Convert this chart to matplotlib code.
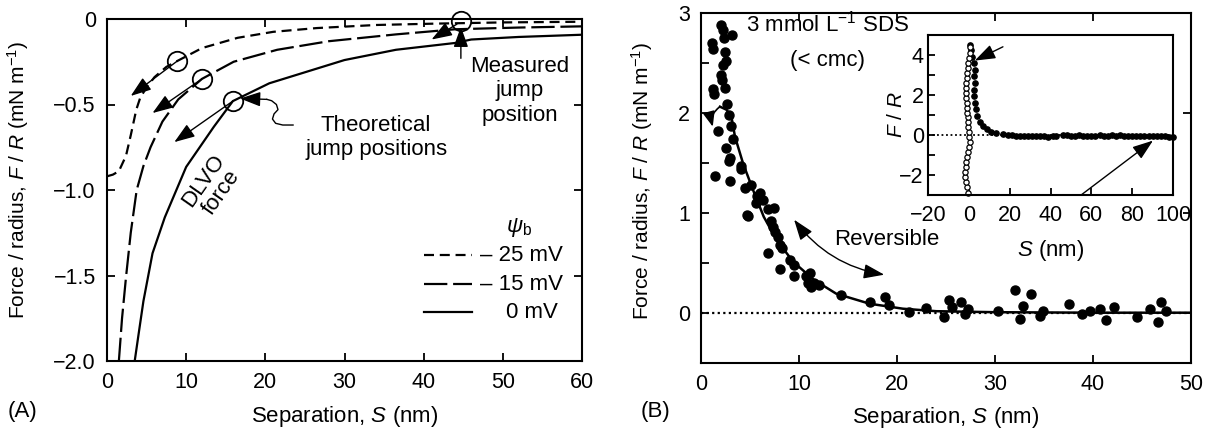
import matplotlib
matplotlib.use('Agg')
import matplotlib.pyplot as plt

plt.rcParams['font.family'] = ['Liberation Sans', 'DejaVu Sans']
plt.rcParams['mathtext.fontset'] = 'custom'
plt.rcParams['mathtext.rm'] = 'Liberation Sans'
plt.rcParams['mathtext.it'] = 'Liberation Sans:italic'
plt.rcParams['mathtext.bf'] = 'Liberation Sans:bold'

FS = 16      # horizontal text
FT = 15.5    # tick labels
FY = 15      # rotated axis labels

# ---------------- Panel A data ----------------
s_0mV = [3.5, 4.0, 4.6, 5.75, 7.3, 10.0, 13.5, 15.9, 20.5, 30, 36.5, 44, 46, 52, 60]
f_0mV = [-2.0, -1.84, -1.65, -1.37, -1.16, -0.865, -0.63, -0.48, -0.376, -0.24, -0.18,
         -0.14, -0.12, -0.105, -0.092]
s_15mV = [1.5, 1.9, 2.4, 3.0, 3.75, 4.6, 5.5, 7.0, 9.0, 12.0, 16, 21.5, 28, 36.5, 44, 52, 60]
f_15mV = [-2.0, -1.75, -1.51, -1.25, -1.0, -0.86, -0.75, -0.6, -0.47, -0.35, -0.25, -0.18,
          -0.13, -0.09, -0.06, -0.05, -0.043]
s_25mV = [0, 0.75, 1.5, 2.4, 3.0, 3.7, 4.2, 5.0, 6.0, 7.5, 8.9, 12, 16.5, 21, 26.5, 34,
          41.5, 50, 60]
f_25mV = [-0.92, -0.91, -0.89, -0.80, -0.68, -0.53, -0.46, -0.40, -0.34, -0.28, -0.245,
          -0.17, -0.11, -0.075, -0.053, -0.035, -0.027, -0.02, -0.016]
theo_jump_s = [8.9, 12.0, 15.9]
theo_jump_f = [-0.245, -0.35, -0.48]
theo_arrow_s = [3.0, 5.75, 8.5]
theo_arrow_f = [-0.45, -0.55, -0.72]
meas_jump_s = [44.7]
meas_jump_f = [-0.01]
legend_labels = ['\u2013 25 mV', '\u2013 15 mV', '0 mV']

# ---------------- Panel B data ----------------
b_s = [2.04, 2.23, 1.1, 1.24, 3.2, 2.3, 2.4, 2.2, 2.6, 2.0,
       2.1, 1.27, 1.35, 2.4, 2.7, 2.9, 3.1, 1.7, 3.3, 2.55,
       3.0, 2.9, 1.4, 3.0, 4.1, 4.1, 4.5, 5.1, 4.7, 4.8,
       5.7, 6.0, 6.3, 5.6, 6.8, 7.4, 7.1, 7.3, 7.5, 6.8,
       7.9, 8.1, 8.3, 8.1, 9.1, 9.5, 9.5, 10.7, 11.1, 10.9,
       11.5, 14.3, 17.2, 18.8, 19.2, 21.2, 23.0, 24.8, 25.3, 25.6,
       26.5, 26.9, 27.2, 30.3, 32.0, 32.5, 32.9, 33.7, 34.6, 34.9,
       37.6, 38.9, 39.7, 40.7, 41.3, 42.1, 44.5, 45.8, 46.6, 46.9,
       47.4, 11.2, 12.0]
b_f = [2.88, 2.83, 2.70, 2.64, 2.78, 2.75, 2.61, 2.48, 2.52, 2.38,
       2.33, 2.24, 2.19, 2.25, 2.09, 1.98, 1.87, 1.82, 1.74, 1.65,
       1.55, 1.52, 1.37, 1.32, 1.47, 1.44, 1.25, 1.28, 0.98, 0.97,
       1.17, 1.20, 1.13, 1.10, 1.04, 1.05, 0.92, 0.86, 0.81, 0.60,
       0.76, 0.68, 0.65, 0.44, 0.53, 0.48, 0.37, 0.37, 0.40, 0.30,
       0.30, 0.18, 0.11, 0.16, 0.08, 0.01, 0.05, -0.04, 0.13, 0.06,
       0.11, -0.01, 0.04, 0.02, 0.23, -0.06, 0.07, 0.19, -0.03, 0.02,
       0.09, -0.01, 0.02, 0.04, -0.07, 0.06, -0.04, 0.04, -0.09, 0.11,
       0.02, 0.26, 0.28]
fit_s = [1.94, 2.6, 3.1, 3.47, 4.3, 5.3, 6.4, 7.7, 9.4, 11.5, 13.8, 17.2, 20.6, 24, 30, 40, 50]
fit_f = [2.06, 2.03, 1.96, 1.76, 1.49, 1.23, 0.96, 0.73, 0.51, 0.33, 0.19, 0.09, 0.04,
         0.015, 0.005, 0.0, 0.0]

# ---------------- Inset data ----------------
in_open_s = [-0.4, -1.0, -1.55, -1.8, -2.0, -1.6, -1.2, -0.8, -0.4, 0.0, 0.4, 0.2, -0.1, -0.3,
             -0.4, -0.6, -0.7, -0.8, -0.9, -1.2, -1.55, -1.4, -1.2, -0.9, -0.7, -0.5, -0.4,
             0.0, 0.4, 0.7]
in_open_f = [-2.9, -2.6, -2.34, -2.1, -1.84, -1.6, -1.35, -1.1, -0.86, -0.6, -0.36, -0.1, 0.13,
             0.4, 0.63, 0.9, 1.12, 1.35, 1.61, 1.85, 2.1, 2.35, 2.6, 2.85, 3.1, 3.35, 3.6, 3.85,
             4.08, 4.41]
in_fill_s = [0.7, 1.2, 1.7, 2.4, 2.9, 2.4, 3.0, 2.7, 2.4, 3.0, 3.7, 4.0, 5.3, 6.9, 8.9, 11.0,
             13.5, 16.7,
             19, 21, 23, 25, 27, 29, 31, 33, 35, 37, 39, 41, 42.5,
             46, 48, 50, 52, 54, 56, 58, 60, 62, 64, 66, 68, 70, 72, 74, 76, 78, 80, 82, 84,
             86, 88, 90, 92, 94, 96, 98, 100]
in_fill_f = [4.5, 4.25, 3.9, 3.6, 3.26, 2.93, 2.6, 2.27, 1.94, 1.61, 1.28, 0.95, 0.63, 0.43,
             0.30, 0.16, 0.10, 0.05,
             0.02, 0.0, -0.05, -0.06, -0.04, -0.06, -0.05, -0.07, -0.05, -0.06, -0.08, -0.06,
             -0.07,
             -0.01, -0.02, -0.03, -0.04, -0.02, -0.05, -0.03, -0.06, -0.04, -0.02, -0.05,
             -0.03, -0.01, -0.04, -0.02, -0.05, -0.03, -0.06, -0.04, -0.05, -0.03, -0.06,
             -0.04, -0.05, -0.07, -0.06, -0.08, -0.08]

# ---------------- Figure ----------------
fig = plt.figure(figsize=(12.11, 4.29), dpi=100)


def style(ax, fs=FT, length=6, pad=8):
    for sp in ax.spines.values():
        sp.set_linewidth(1.5)
    ax.tick_params(which='both', direction='in', length=length, width=1.3,
                   labelsize=fs, pad=pad)


arrow_kw = dict(arrowstyle='-|>,head_length=0.7,head_width=0.25', color='k', lw=1.0,
                shrinkA=0, shrinkB=0, mutation_scale=18)

# Panel A
axA = fig.add_axes([107 / 1211, 1 - 361 / 429, 475 / 1211, 342 / 429])
style(axA)
axA.tick_params(top=True, right=True)
axA.set_xlim(0, 60)
axA.set_ylim(-2.0, 0)
axA.set_xticks([0, 10, 20, 30, 40, 50, 60])
axA.set_yticks([-2.0, -1.5, -1.0, -0.5, 0])
axA.set_yticklabels(['\u22122.0', '\u22121.5', '\u22121.0', '\u22120.5', '0'])

lw = 1.6
axA.plot(s_25mV, f_25mV, color='k', lw=lw, ls=(0, (4.5, 2.6)))
axA.plot(s_15mV, f_15mV, color='k', lw=lw, ls=(0, (10.5, 2.6)))
axA.plot(s_0mV, f_0mV, color='k', lw=lw, ls='-')
axA.plot(theo_jump_s, theo_jump_f, 'o', ms=14, mfc='none', mec='k', mew=1.3)
axA.plot(meas_jump_s, meas_jump_f, 'o', ms=14, mfc='none', mec='k', mew=1.3, clip_on=False)
for s0, f0, s1, f1 in zip(theo_jump_s, theo_jump_f, theo_arrow_s, theo_arrow_f):
    axA.annotate('', xy=(s1, f1), xytext=(s0, f0), arrowprops=arrow_kw)
axA.annotate('', xy=(41.0, -0.12), xytext=(44.2, -0.03), arrowprops=arrow_kw)
axA.annotate('', xy=(44.7, -0.045), xytext=(44.7, -0.23), arrowprops=arrow_kw)

# wavy pointer
wav_s = [23.5, 22.2, 21.3, 20.9, 21.1, 21.6, 21.4, 20.8, 20.2]
wav_f = [-0.62, -0.62, -0.61, -0.585, -0.555, -0.53, -0.5, -0.478, -0.47]
axA.plot(wav_s, wav_f, color='k', lw=1.0)
axA.annotate('', xy=(16.8, -0.465), xytext=(20.2, -0.47), arrowprops=arrow_kw)

axA.text(34, -0.695, 'Theoretical\njump positions', fontsize=FS, ha='center', va='center',
         linespacing=1.2)
axA.text(52.1, -0.42, 'Measured\njump\nposition', fontsize=FS, ha='center', va='center',
         linespacing=1.2)
axA.text(13.3, -0.98, 'DLVO\nforce', fontsize=FS, ha='center', va='center', rotation=55,
         linespacing=1.05)

# manual legend
axA.text(52.1, -1.22, r'$\psi_{\mathrm{b}}$', fontsize=FS, ha='center', va='center')
leg_y = [-1.383, -1.55, -1.716]
leg_ls = [(0, (4.5, 2.6)), (0, (10.5, 2.6)), '-']
leg_x = [47.1, 47.1, 50.4]
for y, ls, lab, x in zip(leg_y, leg_ls, legend_labels, leg_x):
    axA.plot([40.1, 46.1], [y, y], color='k', lw=lw, ls=ls)
    axA.text(x, y, lab, fontsize=FS, ha='left', va='center')

axA.set_xlabel(r'Separation, $S$ (nm)', fontsize=FS)
axA.xaxis.set_label_coords(0.5, -0.125)
axA.set_ylabel(r'Force / radius, $F$ / $R$ (mN m$^{-1}$)', fontsize=FY)
axA.yaxis.set_label_coords(-0.16, 0.53)
fig.text(8 / 1211, 1 - 412 / 429, '(A)', fontsize=FS, ha='left', va='center')

# Panel B
axB = fig.add_axes([701 / 1211, 1 - 362.7 / 429, 490 / 1211, 350 / 429])
style(axB)
axB.tick_params(top=True, right=True)
axB.set_xlim(0, 50)
axB.set_ylim(-0.5, 3)
axB.set_xticks([0, 10, 20, 30, 40, 50])
axB.set_yticks([0, 1, 2, 3])
axB.set_yticks([-0.5, 0.5, 1.5, 2.5], minor=True)
axB.axhline(0, color='k', lw=1.6, ls=(0, (1, 1.5)))
axB.plot(fit_s, fit_f, color='k', lw=1.8)
axB.annotate('', xy=(1.2, 1.86), xytext=(1.94, 2.06),
             arrowprops=dict(arrowstyle='-|>,head_length=0.5,head_width=0.2', color='k',
                             lw=1.2, shrinkA=0, shrinkB=0, mutation_scale=18,
                             connectionstyle='arc3,rad=0.35'))
axB.plot(b_s, b_f, 'o', ms=6.5, color='k', clip_on=False)
axB.text(12.9, 2.89, r'3 mmol L$^{-1}$ SDS', fontsize=FS, ha='center', va='center')
axB.text(12.9, 2.52, '(< cmc)', fontsize=FS, ha='center', va='center')
axB.text(19.0, 0.73, 'Reversible', fontsize=FS, ha='center', va='center')
axB.annotate('', xy=(18.7, 0.38), xytext=(9.5, 0.93),
             arrowprops=dict(arrowstyle='<|-|>,head_length=0.7,head_width=0.25', color='k',
                             lw=1.0, shrinkA=0, shrinkB=0, mutation_scale=18,
                             connectionstyle='arc3,rad=0.2'))
axB.set_xlabel(r'Separation, $S$ (nm)', fontsize=FS)
axB.xaxis.set_label_coords(0.5, -0.12)
axB.set_ylabel(r'Force / radius, $F$ / $R$ (mN m$^{-1}$)', fontsize=FY)
axB.yaxis.set_label_coords(-0.094, 0.52)
fig.text(641 / 1211, 1 - 412 / 429, '(B)', fontsize=FS, ha='left', va='center')

# Inset
axI = fig.add_axes([928 / 1211, 1 - 195 / 429, 245 / 1211, 160 / 429])
style(axI, length=5, pad=3)
axI.set_xlim(-20, 100)
axI.set_ylim(-3, 5)
axI.set_xticks([-20, 0, 20, 40, 60, 80, 100])
axI.set_xticklabels(['\u221220', '0', '20', '40', '60', '80', '100'])
axI.tick_params(axis='x', pad=7)
axI.set_yticks([-2, 0, 2, 4])
axI.set_yticklabels(['\u22122', '0', '2', '4'])
axI.set_yticks([-1, 1, 3], minor=True)
axI.plot([-20, 100], [0, 0], color='k', lw=1.3, ls=(0, (1, 1.5)))
axI.plot(in_fill_s, in_fill_f, 'o', ms=3.8, color='k', clip_on=False)
axI.plot(in_open_s, in_open_f, 'o', ms=3.8, mfc='white', mec='k', mew=0.9, clip_on=False)
axI.annotate('', xy=(2.9, 3.72), xytext=(16.7, 4.41), arrowprops=arrow_kw)
axI.annotate('', xy=(90.2, -0.28), xytext=(55, -3.0), arrowprops=arrow_kw, annotation_clip=False)
axI.set_xlabel(r'$S$ (nm)', fontsize=FS)
axI.xaxis.set_label_coords(0.5, -0.27)
axI.set_ylabel(r'$F$ / $R$', fontsize=FY)
axI.yaxis.set_label_coords(-0.09, 0.5)

fig.savefig('out.png', dpi=100)
